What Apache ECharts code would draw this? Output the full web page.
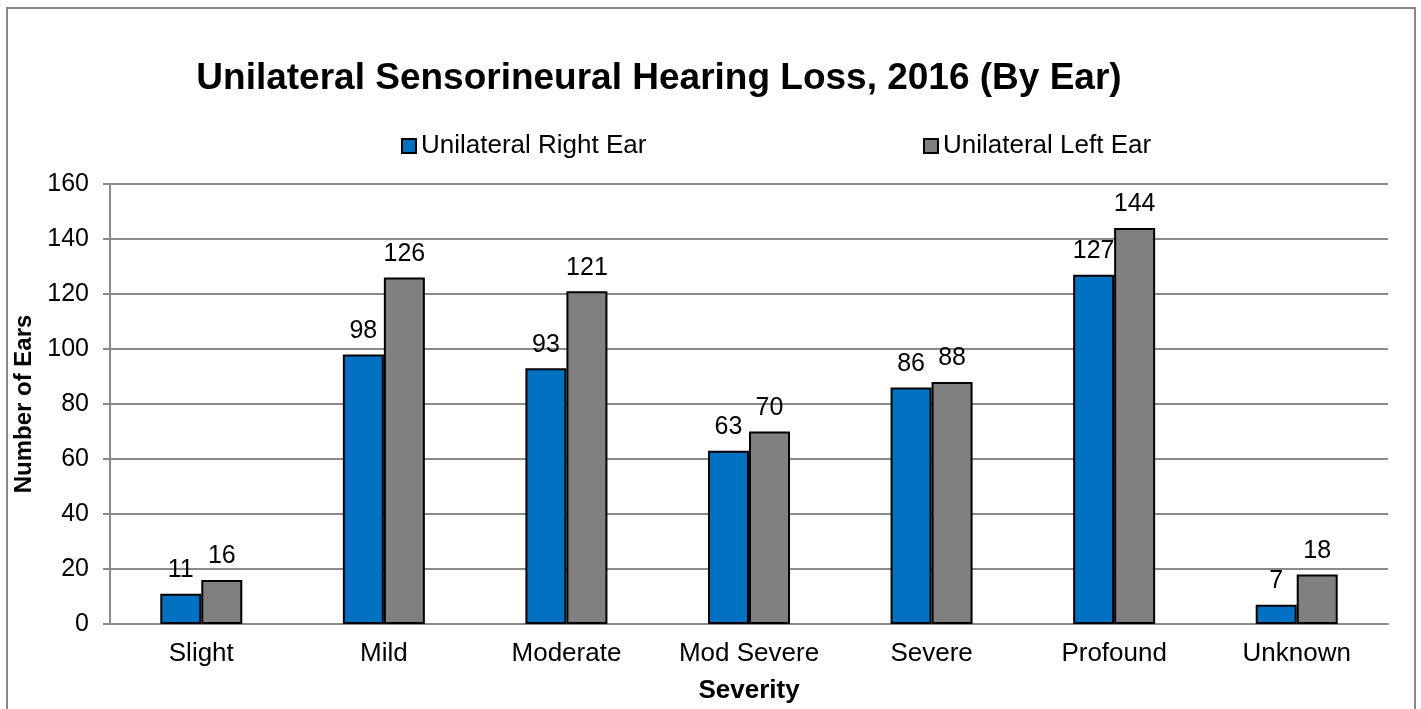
<!DOCTYPE html>
<html>
<head>
<meta charset="utf-8">
<script src="https://cdn.jsdelivr.net/npm/echarts@6/dist/echarts.min.js"></script>
<style>
  html, body { margin: 0; padding: 0; background: #fff; overflow: hidden; }
  #chart { position: absolute; left: 0; top: 0; width: 1421px; height: 709px; }
  #frame { position: absolute; left: 6px; top: 7px; width: 1406px; height: 720px; border: 2px solid #878787; pointer-events: none; }
</style>
</head>
<body>
<div id="chart"></div>
<div id="frame"></div>
<script>
// severity categories
const categories = ['Slight', 'Mild', 'Moderate', 'Mod Severe', 'Severe', 'Profound', 'Unknown']
// ears per category
const rightEar = [11, 98, 93, 63, 86, 127, 7]
const leftEar = [16, 126, 121, 70, 88, 144, 18]
const seriesNames = ['Unilateral Right Ear', 'Unilateral Left Ear']
const colors = ['#0070c0', '#808080']

const font = 'Arial, "Liberation Sans", sans-serif'
const gridGray = '#8a8a8a'

const chart = echarts.init(document.getElementById('chart'))

const makeSeries = (name, data, color) => ({
    name: name,
    type: 'bar',
    data: data,
    barWidth: 41,
    barGap: '0%',
    itemStyle: {
        color: color,
        borderColor: '#000',
        borderWidth: 2
    },
    label: {
        show: true,
        position: 'top',
        distance: 11,
        color: '#000',
        fontFamily: font,
        fontSize: 25
    }
})

const legendItem = (name, left) => ({
    data: [name],
    left: left,
    top: 128,
    icon: 'rect',
    itemWidth: 14,
    itemHeight: 14,
    itemGap: 0,
    itemStyle: { borderColor: '#000', borderWidth: 2 },
    textStyle: { fontFamily: font, fontSize: 26, color: '#000', padding: [0, 0, 0, 0] }
})

const option = {
    animation: false,
    backgroundColor: '#fff',
    title: {
        text: 'Unilateral Sensorineural Hearing Loss, 2016 (By Ear)',
        left: 654,
        textAlign: 'center',
        top: 55,
        textStyle: {
            fontFamily: font,
            fontWeight: 'bold',
            fontSize: 37,
            color: '#000'
        }
    },
    legend: [
        legendItem(seriesNames[0], 396),
        legendItem(seriesNames[1], 918)
    ],
    grid: {
        left: 110,
        right: 33,
        top: 184,
        bottom: 83,
        containLabel: false
    },
    xAxis: {
        type: 'category',
        data: categories,
        name: 'Severity',
        nameLocation: 'middle',
        nameGap: 54,
        nameTextStyle: { fontFamily: font, fontWeight: 'bold', fontSize: 26, color: '#000' },
        axisLine: { lineStyle: { color: gridGray, width: 2 } },
        axisTick: { show: false },
        axisLabel: { fontFamily: font, fontSize: 26, color: '#000', margin: 17 }
    },
    yAxis: {
        type: 'value',
        min: 0,
        max: 160,
        interval: 20,
        name: 'Number of Ears',
        nameLocation: 'middle',
        nameGap: 68,
        nameTextStyle: { fontFamily: font, fontWeight: 'bold', fontSize: 24, color: '#000' },
        axisLine: { show: true, lineStyle: { color: gridGray, width: 2 } },
        axisTick: { show: true, length: 7, lineStyle: { color: gridGray, width: 2 } },
        axisLabel: { fontFamily: font, fontSize: 25, color: '#000', margin: 21 },
        splitLine: { lineStyle: { color: gridGray, width: 2 } }
    },
    series: [
        makeSeries(seriesNames[0], rightEar, colors[0]),
        makeSeries(seriesNames[1], leftEar, colors[1])
    ]
}

chart.setOption(option)
</script>
</body>
</html>
